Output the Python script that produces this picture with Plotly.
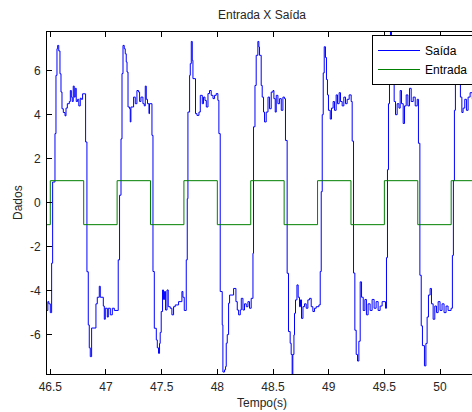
import plotly.graph_objects as go

# ---- data ----
entrada_t = [46.47, 46.5, 46.8, 47.1, 47.4, 47.7, 48.0, 48.3, 48.6, 48.9, 49.2, 49.5, 49.8, 50.1, 50.3]
entrada_v = [-1, 1, -1, 1, -1, 1, -1, 1, -1, 1, -1, 1, -1, 1, 1]

saida_t = [
    46.469, 46.478, 46.487, 46.500, 46.512, 46.521, 46.542, 46.551, 46.560, 46.566,
    46.576, 46.587, 46.596, 46.605, 46.617, 46.632, 46.641, 46.653, 46.671, 46.680,
    46.689, 46.697, 46.706, 46.715, 46.724, 46.733, 46.745, 46.756, 46.769, 46.778,
    46.790, 46.817, 46.829, 46.841, 46.850, 46.859, 46.871, 46.910, 46.922, 46.940,
    46.949, 46.976, 46.985, 46.994, 47.012, 47.021, 47.039, 47.057, 47.075, 47.110,
    47.122, 47.135, 47.144, 47.153, 47.164, 47.173, 47.182, 47.189, 47.198, 47.212,
    47.218, 47.224, 47.248, 47.263, 47.278, 47.293, 47.302, 47.314, 47.332, 47.344,
    47.353, 47.362, 47.373, 47.386, 47.391, 47.413, 47.422, 47.434, 47.452, 47.461,
    47.472, 47.481, 47.487, 47.496, 47.508, 47.517, 47.526, 47.535, 47.548, 47.559,
    47.577, 47.592, 47.607, 47.622, 47.652, 47.682, 47.691, 47.703, 47.721,
    47.730, 47.736, 47.751, 47.757, 47.766, 47.775, 47.781, 47.804, 47.817, 47.835,
    47.847, 47.865, 47.876, 47.889, 47.901, 47.916, 47.930, 47.945, 47.961, 47.975,
    47.990, 48.005, 48.014, 48.026, 48.044, 48.050, 48.065, 48.074, 48.080, 48.089,
    48.101, 48.110, 48.146, 48.167, 48.179, 48.191, 48.206, 48.215, 48.230, 48.244,
    48.260, 48.275, 48.289, 48.304, 48.320,
    48.325, 48.338, 48.349, 48.364, 48.373, 48.379, 48.394, 48.403, 48.415, 48.424,
    48.439, 48.455, 48.469, 48.484, 48.500, 48.508, 48.520, 48.529, 48.544, 48.559,
    48.574, 48.589, 48.603, 48.612, 48.627, 48.639, 48.654, 48.663, 48.672, 48.678,
    48.688, 48.693, 48.702, 48.715, 48.726, 48.738, 48.747, 48.756, 48.769, 48.783,
    48.798, 48.813, 48.828, 48.843, 48.858, 48.873, 48.888, 48.912, 48.924,
    48.933, 48.942, 48.951, 48.960, 48.971, 48.980, 48.989, 48.998, 49.014, 49.025,
    49.040, 49.052, 49.067, 49.079, 49.094, 49.106, 49.121, 49.136, 49.151, 49.166,
    49.184, 49.202, 49.211, 49.223, 49.235, 49.247, 49.259, 49.271, 49.283, 49.295,
    49.310, 49.325, 49.339, 49.354, 49.372, 49.390, 49.408, 49.426, 49.444, 49.462,
    49.480, 49.510, 49.519,
    49.528, 49.537, 49.546, 49.555, 49.564, 49.577, 49.588, 49.600, 49.615, 49.631,
    49.642, 49.654, 49.669, 49.681, 49.696, 49.711, 49.726, 49.741, 49.759, 49.777,
    49.795, 49.806, 49.819, 49.831, 49.842, 49.860, 49.873, 49.884, 49.896, 49.911,
    49.923, 49.938, 49.953, 49.968, 49.983, 50.000, 50.018, 50.036, 50.054, 50.072,
    50.099, 50.111,
    50.120, 50.129, 50.138, 50.147, 50.160, 50.171, 50.183, 50.196, 50.207, 50.222,
    50.237, 50.252, 50.270, 50.290,
]
saida_v = [
    -4.9, -4.5, -4.6, -5.0, -2.75, 0.94, 3.14, 5.79, 7.0, 7.15,
    6.9, 5.86, 5.03, 4.27, 4.1, 3.95, 4.3, 4.5, 4.6, 5.1,
    4.8, 4.6, 5.3, 4.8, 5.2, 4.6, 4.7, 4.4, 4.75, 4.7,
    4.95, 2.76, -3.14, -5.56, -6.6, -7.0, -5.7, -4.6, -4.3, -3.8,
    -4.3, -4.7, -5.3, -4.8, -5.2, -4.8, -5.1, -4.8, -4.9, -2.6,
    0.34, 2.9, 5.87, 7.15, 7.0, 6.77, 6.4, 5.94, 4.35, 4.27,
    3.67, 4.35, 4.8, 4.5, 5.1, 5.03, 4.6, 4.8, 4.5, 4.4,
    5.3, 4.7, 4.5, 4.05, 4.5, 3.06, -3.13, -5.71, -6.24, -6.6,
    -6.85, -6.4, -5.9, -4.95, -3.97, -4.4, -4.04, -4.88, -3.97, -4.73,
    -4.8, -5.1, -4.73, -4.65, -4.5, -4.04, -4.3, -4.9, -2.6,
    0.18, 4.12, 5.79, 6.32, 7.33, 6.47, 5.64, 4.05, 3.97, 4.12,
    4.88, 4.5, 4.8, 4.65, 4.35, 4.96, 5.1, 4.88, 4.73, 4.88,
    4.96, 4.65, 3.14, -4.04, -5.56, -7.7, -7.6, -7.45, -6.39, -6.0,
    -4.57, -4.2, -3.9, -4.5, -4.88, -5.1, -4.88, -4.35, -4.88, -4.6,
    -4.73, -4.5, -4.8, -4.35, -2.3,
    3.45, 5.33, 6.7, 7.33, 7.08, 6.7, 5.33, 4.8, 4.12, 3.67,
    4.12, 4.8, 4.27, 5.03, 5.1, 4.73, 4.12, 4.88, 4.5, 4.73,
    4.2, 4.8, 4.73, 2.83, -3.21, -5.86, -6.39, -6.9, -8.0, -6.9,
    -6.01, -5.03, -4.42, -3.74, -4.3, -4.73, -4.42, -5.26, -4.73, -4.6,
    -4.8, -4.42, -4.35, -4.73, -4.95, -4.8, -4.73, -4.65, -3.13,
    0.5, 4.0, 5.9, 7.09, 6.6, 5.6, 4.9, 4.2, 3.8, 4.3,
    4.6, 4.2, 4.9, 4.5, 5.0, 4.6, 4.4, 4.8, 4.5, 4.7,
    4.9, 4.6, 2.8, -3.2, -5.8, -6.9, -7.2, -6.3, -3.6, -4.3,
    -4.9, -4.4, -5.1, -4.6, -4.9, -4.4, -4.8, -4.5, -4.9, -4.7,
    -4.5, -4.8, -2.5,
    1.5, 4.5, 6.5, 8.1, 7.0, 5.5, 4.6, 4.0, 4.5, 4.3,
    5.1, 4.5, 3.6, 4.4, 4.9, 4.4, 5.2, 4.6, 4.8, 4.4,
    4.7, 2.7, -3.3, -5.6, -6.5, -7.42, -6.4, -5.2, -4.2, -3.9,
    -4.6, -5.3, -4.7, -5.0, -4.5, -4.9, -4.6, -5.0, -4.7, -4.9,
    -4.8, -2.4,
    1.0, 4.2, 6.3, 7.4, 6.9, 5.6, 4.8, 4.1, 4.3, 4.7,
    4.2, 4.8, 5.0, 4.7,
]

x_ticks = [46.5, 47, 47.5, 48, 48.5, 49, 49.5, 50]
x_ticklabels = ["46.5", "47", "47.5", "48", "48.5", "49", "49.5", "50"]
y_ticks = [-6, -4, -2, 0, 2, 4, 6]
y_ticklabels = ["-6", "-4", "-2", "0", "2", "4", "6"]

FONT = "Liberation Sans, Arial, sans-serif"
TXT = "#262626"
W, H = 472, 412
L, T, B = 47, 32, 38

fig = go.Figure()
fig.add_trace(go.Scatter(x=saida_t, y=saida_v, name="Saída", mode="lines",
                         line=dict(color="#0000FF", width=1, shape="hv")))
fig.add_trace(go.Scatter(x=entrada_t, y=entrada_v, name="Entrada", mode="lines",
                         line=dict(color="#008000", width=1, shape="hv")))

plot_w = W - L
plot_h = H - T - B

fig.update_layout(
    width=W, height=H,
    margin=dict(l=L, r=0, t=T, b=B, autoexpand=False),
    paper_bgcolor="white", plot_bgcolor="white",
    font=dict(family=FONT, size=12, color=TXT),
    title=dict(text="Entrada X Saída", x=262/W, xref="container", xanchor="center",
               y=1 - 15/H, yref="container", yanchor="middle",
               font=dict(family=FONT, size=12, color=TXT)),
    legend=dict(x=(372-L)/plot_w, xanchor="left", y=(H-B-35)/plot_h, yanchor="top",
                bgcolor="white", bordercolor="black", borderwidth=1,
                font=dict(family=FONT, size=12, color="black"),
                tracegroupgap=0, itemwidth=42, entrywidth=50, entrywidthmode="pixels"),
    showlegend=True,
    annotations=[
        dict(text="Tempo(s)", xref="paper", yref="paper", x=(262-L)/plot_w, y=-(403-(H-B))/plot_h,
             xanchor="center", yanchor="middle", showarrow=False,
             font=dict(family=FONT, size=12, color=TXT)),
        dict(text="Dados", xref="paper", yref="paper", x=-(L-18)/plot_w, y=(H-B-203)/plot_h,
             xanchor="center", yanchor="middle", textangle=-90, showarrow=False,
             font=dict(family=FONT, size=12, color=TXT)),
    ],
)
fig.update_xaxes(range=[46.4704, 50.287], tickvals=x_ticks, ticktext=x_ticklabels,
                 ticks="inside", ticklen=5, tickcolor="black", showline=True,
                 linecolor="black", linewidth=1, mirror="ticks", showgrid=False,
                 zeroline=False, automargin=False, ticklabelstandoff=2)
fig.update_yaxes(range=[-7.79, 7.76], tickvals=y_ticks, ticktext=y_ticklabels,
                 ticks="inside", ticklen=5, tickcolor="black", showline=True,
                 linecolor="black", linewidth=1, mirror=False, showgrid=False,
                 zeroline=False, automargin=False, ticklabelstandoff=3)

fig.write_html("out.html", config={"displayModeBar": False},
               post_script="document.body.style.margin='0';document.body.style.overflow='hidden';")
